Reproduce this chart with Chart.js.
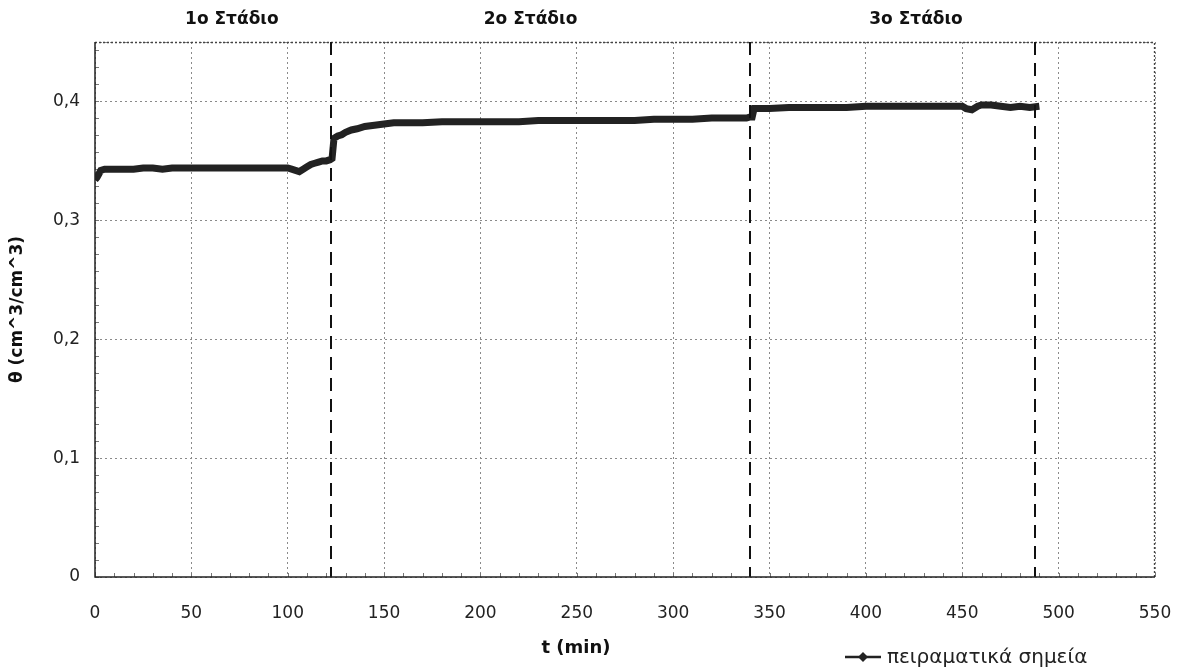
<!DOCTYPE html>
<html><head><meta charset="utf-8">
<script src="https://cdn.jsdelivr.net/npm/chart.js@4.4.1/dist/chart.umd.min.js"></script>
<style>html,body{margin:0;padding:0;background:#fff;}#wrap{width:1178px;height:667px;}</style>
</head><body><div id="wrap"><canvas id="c" width="1178" height="667"></canvas></div>
<script>
const timeMin = [0,1,2,3,5,10,15,20,25,30,35,40,45,50,55,60,65,70,75,80,85,90,95,100,102,104,106,108,110,112,114,116,118,120,122,123,124,126,128,130,133,136,140,145,150,155,160,170,180,190,200,210,220,230,240,250,260,270,280,290,300,310,320,330,338,340,341,342,345,350,360,370,380,390,400,410,420,430,440,450,452,455,458,460,465,470,475,480,485,490];
const theta = [0.334,0.336,0.339,0.342,0.343,0.343,0.343,0.343,0.344,0.344,0.343,0.344,0.344,0.344,0.344,0.344,0.344,0.344,0.344,0.344,0.344,0.344,0.344,0.344,0.343,0.342,0.341,0.343,0.345,0.347,0.348,0.349,0.350,0.350,0.351,0.352,0.369,0.371,0.372,0.374,0.376,0.377,0.379,0.380,0.381,0.382,0.382,0.382,0.383,0.383,0.383,0.383,0.383,0.384,0.384,0.384,0.384,0.384,0.384,0.385,0.385,0.385,0.386,0.386,0.386,0.387,0.387,0.394,0.394,0.394,0.395,0.395,0.395,0.395,0.396,0.396,0.396,0.396,0.396,0.396,0.394,0.393,0.396,0.397,0.397,0.396,0.395,0.396,0.395,0.396];
const stageBounds = [122.5, 340, 487.5];
const stageLabels = ['1o Στάδιο', '2o Στάδιο', '3o Στάδιο'];
const stageLabelT = [71, 226, 426];
const xTicks = [0,50,100,150,200,250,300,350,400,450,500,550];
const yTicks = [0,0.1,0.2,0.3,0.4];
const seriesName = 'πειραματικά σημεία';
const xTitle = 't (min)';
const yTitle = 'θ (cm^3/cm^3)';

const FONT = '"DejaVu Sans", sans-serif';

const extras = {
  id: 'extras',
  beforeDatasetsDraw(chart) {
    const {ctx, chartArea: a, scales: {x, y}} = chart;
    ctx.save();
    ctx.strokeStyle = '#777'; ctx.lineWidth = 1;
    for (let v = 0; v <= 550; v += 10) {
      const px = Math.round(x.getPixelForValue(v)) + 0.5;
      ctx.beginPath(); ctx.moveTo(px, a.bottom); ctx.lineTo(px, a.bottom - 4); ctx.stroke();
    }
    for (let k = 0; k <= 31; k++) {
      const py = Math.round(y.getPixelForValue(k * 0.1 / 7)) + 0.5;
      if (py < a.top) break;
      ctx.beginPath(); ctx.moveTo(a.left, py); ctx.lineTo(a.left + 4, py); ctx.stroke();
    }
    ctx.strokeStyle = '#444'; ctx.setLineDash([2, 2]); ctx.lineWidth = 1.3;
    ctx.beginPath(); ctx.moveTo(a.left, a.top + 0.5); ctx.lineTo(a.right - 0.5, a.top + 0.5); ctx.lineTo(a.right - 0.5, a.bottom); ctx.stroke();
    ctx.restore();
  },
  afterDatasetsDraw(chart) {
    const {ctx, chartArea: a, scales: {x, y}} = chart;
    ctx.save();
    ctx.strokeStyle = '#111'; ctx.lineWidth = 2; ctx.setLineDash([13, 8]);
    stageBounds.forEach(t => {
      const px = Math.round(x.getPixelForValue(t));
      ctx.beginPath(); ctx.moveTo(px, a.top); ctx.lineTo(px, a.bottom); ctx.stroke();
    });
    ctx.setLineDash([]);
    ctx.strokeStyle = '#222'; ctx.lineWidth = 1.5;
    ctx.beginPath(); ctx.moveTo(a.left, a.top); ctx.lineTo(a.left, a.bottom); ctx.lineTo(a.right, a.bottom); ctx.stroke();
    ctx.fillStyle = '#111'; ctx.font = 'bold 17px ' + FONT; ctx.textAlign = 'center'; ctx.textBaseline = 'middle';
    stageLabels.forEach((s, i) => ctx.fillText(s, x.getPixelForValue(stageLabelT[i]), 20));
    // x axis title
    ctx.font = 'bold 18px ' + FONT;
    ctx.fillText(xTitle, 576, 648);
    // y axis title
    ctx.save();
    ctx.translate(18, (a.top + a.bottom) / 2);
    ctx.rotate(-Math.PI / 2);
    ctx.font = 'bold 17px ' + FONT;
    ctx.fillText(yTitle, 0, 0);
    ctx.restore();
    // legend
    const ly = 657;
    ctx.strokeStyle = '#222'; ctx.lineWidth = 2.5;
    ctx.beginPath(); ctx.moveTo(845, ly); ctx.lineTo(881, ly); ctx.stroke();
    ctx.fillStyle = '#222';
    ctx.beginPath(); ctx.moveTo(863, ly - 5); ctx.lineTo(868, ly); ctx.lineTo(863, ly + 5); ctx.lineTo(858, ly); ctx.closePath(); ctx.fill();
    ctx.font = '20px ' + FONT; ctx.textAlign = 'left';
    ctx.fillText(seriesName, 887, ly + 1);
    ctx.restore();
  }
};

new Chart(document.getElementById('c'), {
  type: 'line',
  data: {
    datasets: [{
      label: seriesName,
      data: timeMin.map((t, i) => ({x: t, y: theta[i]})),
      borderColor: '#222',
      backgroundColor: '#222',
      borderWidth: 7,
      pointRadius: 0,
      tension: 0
    }]
  },
  options: {
    responsive: false,
    animation: false,
    devicePixelRatio: 1,
    layout: {padding: {top: 42, right: 23, left: 0, bottom: 0}},
    plugins: {legend: {display: false}, tooltip: {enabled: false}},
    scales: {
      x: {
        type: 'linear', min: 0, max: 550,
        afterBuildTicks: s => { s.ticks = xTicks.map(v => ({value: v})); },
        afterFit: s => { s.height = 90; s.paddingLeft = 0; s.paddingRight = 0; },
        ticks: {color: '#222', font: {family: FONT, size: 17}, padding: 26, maxRotation: 0},
        grid: {color: '#8a8a8a', lineWidth: 1, drawTicks: false},
        border: {display: false, dash: [2, 3]},
        title: {display: false}
      },
      y: {
        type: 'linear', min: 0, max: 0.45,
        afterBuildTicks: s => { s.ticks = yTicks.map(v => ({value: v})).concat([{value: 0.45}]); },
        afterFit: s => { s.width = 95; s.paddingTop = 0; s.paddingBottom = 0; },
        ticks: {color: '#222', font: {family: FONT, size: 17}, padding: 15,
          callback: v => (v > 0.42 ? '' : (Math.round(v * 10) / 10).toString().replace('.', ','))},
        grid: {color: '#8a8a8a', lineWidth: 1, drawTicks: false},
        border: {display: false, dash: [2, 3]},
        title: {display: false}
      }
    }
  },
  plugins: [extras]
});
</script></body></html>
